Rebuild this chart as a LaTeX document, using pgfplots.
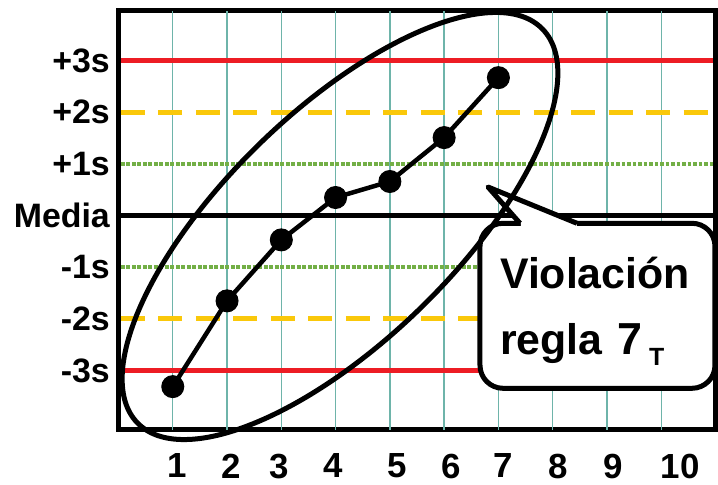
\documentclass[border=0pt]{standalone}
\usepackage{fontspec}
\setmainfont{Liberation Sans}
\usepackage{pgfplots}
\pgfplotsset{compat=1.18}
\definecolor{cred}{RGB}{237,28,36}
\definecolor{cyellow}{RGB}{250,200,10}
\definecolor{cgreen}{RGB}{115,175,70}
\definecolor{cgrid}{RGB}{110,180,170}
\begin{document}
\begin{tikzpicture}
\useasboundingbox (-118.5bp,-55.5bp) rectangle (599.5bp,429.5bp);
\begin{axis}[
  at={(0,0)}, anchor=south west,
  scale only axis, width=597bp, height=418.5bp,
  xmin=0, xmax=11, ymin=-4.14, ymax=3.96,
  axis line style={line width=5bp},
  xtick={1.085,2.085,2.957,3.958,5.126,6.139,7.09,8.104,9.117,10.35},
  xticklabels={1,2,3,4,5,6,7,8,9,10},
  extra x ticks={1,2,3,4,5,6,7,8,9,10},
  extra x tick style={grid=major, xticklabel={}},
  major grid style={cgrid, line width=1.3bp},
  ytick={-3,-2,-1,0,1,2,3},
  yticklabels={-3s,-2s,-1s,Media,+1s,+2s,+3s},
  major tick length=0pt,
  xticklabel style={font=\fontsize{35}{38}\selectfont\bfseries, anchor=north, inner sep=0pt, yshift=-24bp},
  yticklabel style={font=\fontsize{34}{38}\selectfont\bfseries, anchor=east, inner sep=0pt, xshift=-8.5bp},
]
% control limits
\addplot[cred, line width=5bp] coordinates {(0.046,3) (10.954,3)};
\addplot[cred, line width=5bp] coordinates {(0.046,-3) (10.954,-3)};
\addplot[cyellow, line width=5bp, dash pattern=on 24bp off 13.5bp] coordinates {(0.046,2) (10.954,2)};
\addplot[cyellow, line width=5bp, dash pattern=on 24bp off 13.5bp] coordinates {(0.046,-2) (10.954,-2)};
\addplot[cgreen, line width=4bp, dash pattern=on 3.7bp off 1.8bp] coordinates {(0.046,1) (10.954,1)};
\addplot[cgreen, line width=4bp, dash pattern=on 3.7bp off 1.8bp] coordinates {(0.046,-1) (10.954,-1)};
\addplot[black, line width=4.5bp] coordinates {(0.046,0) (10.954,0)};
% data
\addplot[black, line width=4.5bp, mark=*, mark size=11bp, mark options={solid, fill=black, line width=1bp}]
  coordinates {(1,-3.31) (2,-1.65) (3,-0.47) (4,0.35) (5,0.66) (6,1.51) (7,2.67)};
\end{axis}
% callout
\begin{scope}[x=1bp, y=-1bp, shift={(-118.5bp,429.5bp)}]
  \draw[line width=5bp, fill=white, rounded corners=23bp] (480,223.3) rectangle (715,388.3);
  \fill[white] (521,227) -- (521,223.3) -- (488,187) -- (577,223.3) -- (577,227) -- cycle;
  \draw[line width=5bp, line join=round] (520,223.3) -- (488,187) -- (577,223.3);
  \node[anchor=base west, inner sep=0pt, font=\fontsize{43}{48}\selectfont\bfseries] at (500,288.3) {Violación};
  \node[anchor=base west, inner sep=0pt, font=\fontsize{43}{48}\selectfont\bfseries] at (500,355) {regla};
  \node[anchor=base west, inner sep=0pt, font=\fontsize{45}{48}\selectfont\bfseries] at (617,355) {7};
  \node[anchor=base west, inner sep=0pt, font=\fontsize{25}{28}\selectfont\bfseries] at (649,366) {T};
\end{scope}
% ellipse
\draw[line width=5bp, rotate around={44.2:(221.5bp,203.5bp)}] (221.5bp,203.5bp) ellipse [x radius=282.5bp, y radius=115bp];
\end{tikzpicture}
\end{document}
